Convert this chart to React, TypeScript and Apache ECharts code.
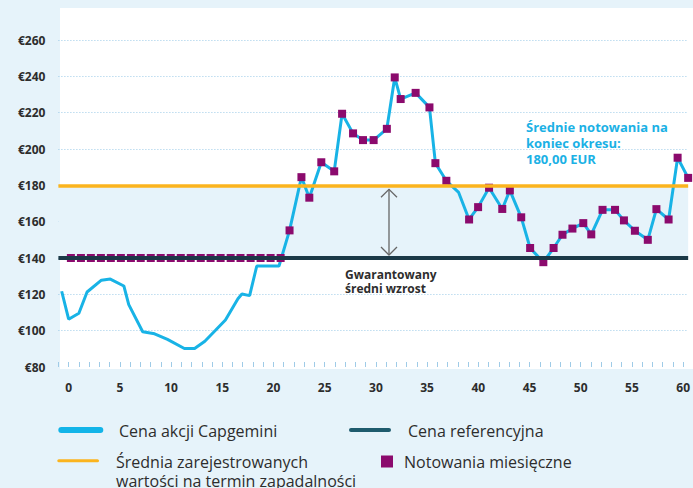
import React, { useEffect, useRef } from "react";
import * as echarts from "echarts";

// ---- data ----
const yTickValues = [80, 100, 120, 140, 160, 180, 200, 220, 240, 260];
const xLabelStep = 5;

// Capgemini share price (line vertices)
const priceX = [
  -0.68, 0, 1.0, 1.8, 3.2, 4.07, 5.39, 5.87, 7.23, 8.39, 9.65, 11.3, 12.3, 13.3, 14.34, 15.31, 16.53,
  16.92, 17.67, 18.37, 20.54, 21.57, 22.73, 23.5, 24.67, 25.93, 26.7, 27.77, 28.74, 29.78, 31.07,
  31.84, 32.42, 33.88, 35.23, 35.81, 36.88, 38.08, 39.1, 39.98, 41.05, 42.34, 43.08, 44.19, 45.06,
  46.35, 47.35, 48.22, 49.19, 50.25, 51.03, 52.13, 53.35, 54.22, 55.29, 56.55, 57.39, 58.58, 59.46,
  60.49,
];
const priceY = [
  121.7, 106.3, 109.6, 121.3, 127.8, 128.4, 124.6, 114.3, 99.4, 98.3, 95.2, 90.2, 90.2, 94.2, 100.2,
  105.9, 117.6, 120.2, 119.3, 135.6, 135.6, 155.2, 184.5, 173.2, 192.7, 187.7, 219.4, 208.6, 204.9,
  204.9, 211.1, 239.4, 227.5, 230.9, 222.9, 192.2, 182.5, 176.1, 161.2, 168.0, 178.7, 167.0, 177.2,
  162.4, 145.5, 137.7, 145.5, 152.8, 156.2, 159.2, 153.0, 166.5, 166.5, 160.7, 155.0, 150.0, 166.9,
  161.2, 195.2, 184.1,
];

// Monthly quotes (squares)
const quoteX = [
  0.22, 1.2, 2.17, 3.15, 4.12, 5.1, 6.08, 7.04, 8.02, 8.99, 9.97, 10.95, 11.92, 12.9, 13.86, 14.84,
  15.82, 16.78, 17.77, 18.74, 19.72, 20.7, 21.57, 22.73, 23.5, 24.67, 25.93, 26.7, 27.77, 28.74,
  29.78, 31.07, 31.84, 32.42, 33.88, 35.23, 35.81, 36.88, 39.1, 39.98, 41.05, 42.34, 43.08, 44.19,
  45.06, 46.35, 47.35, 48.22, 49.19, 50.25, 51.03, 52.13, 53.35, 54.22, 55.29, 56.55, 57.39, 58.58,
  59.46, 60.49,
];
const quoteY = [
  140, 140, 140, 140, 140, 140, 140, 140, 140, 140, 140, 140, 140, 140, 140, 140, 140, 140, 140, 140,
  140, 140, 155.2, 184.5, 173.2, 192.7, 187.7, 219.4, 208.6, 204.9, 204.9, 211.1, 239.4, 227.5,
  230.9, 222.9, 192.2, 182.5, 161.2, 168.0, 178.7, 167.0, 177.2, 162.4, 145.5, 137.7, 145.5, 152.8,
  156.2, 159.2, 153.0, 166.5, 166.5, 160.7, 155.0, 150.0, 166.9, 161.2, 195.2, 184.1,
];

const referencePrice = 140;
const averageAtMaturity = 180;

const legendTexts = {
  price: "Cena akcji Capgemini",
  reference: "Cena referencyjna",
  average: "Średnia zarejestrowanych\nwartości na termin zapadalności",
  quotes: "Notowania miesięczne",
};
const annotationAverage = "Średnie notowania na\nkoniec okresu:\n180,00 EUR";
const annotationGuarantee = "Gwarantowany\nśredni wzrost";

// ---- layout ----
const W = 693;
const H = 488;
const X_MIN = -1;
const X_MAX = 60.49;
const GRID_LEFT = 58.4;
const GRID_TOP = 40;
const GRID_BOTTOM_Y = 367;
const Y_MIN = yTickValues[0];
const Y_MAX = yTickValues[yTickValues.length - 1];

const FONT = '"Open Sans", "Noto Sans", sans-serif';
const DARK_TEXT = "#2d2d2d";
const BG = "#e6f3fa";
const PURPLE = "#8b0a6d";

const yPx = (v: number) => GRID_TOP + ((Y_MAX - v) / (Y_MAX - Y_MIN)) * (GRID_BOTTOM_Y - GRID_TOP);

export default function App() {
  const ref = useRef<HTMLDivElement>(null);

  useEffect(() => {
    if (!ref.current) return;
    const chart = echarts.init(ref.current, null, { renderer: "svg" });

    const arrowX = 389;
    const arrowTop = yPx(averageAtMaturity) + 4;
    const arrowBottom = yPx(referencePrice) - 3;

    const option: any = {
      animation: false,
      backgroundColor: BG,
      grid: {
        left: GRID_LEFT,
        top: GRID_TOP,
        right: 0,
        height: GRID_BOTTOM_Y - GRID_TOP,
        containLabel: false,
      },
      xAxis: {
        type: "value",
        min: X_MIN,
        max: X_MAX,
        interval: 1,
        axisLine: { show: false },
        axisTick: { show: true, inside: true, length: 5, lineStyle: { color: "#9fcbe7", width: 1 } },
        axisLabel: {
          formatter: (v: number) => (v >= 0 && v <= 60 && v % xLabelStep === 0 ? String(v) : ""),
          fontSize: 12,
          fontWeight: "bold",
          color: DARK_TEXT,
          fontFamily: FONT,
          margin: 14,
          showMaxLabel: false,
        },
        splitLine: { show: false },
      },
      yAxis: {
        type: "value",
        min: Y_MIN,
        max: Y_MAX,
        interval: 20,
        axisLine: { show: false },
        axisTick: { show: false },
        axisLabel: {
          formatter: "€{value}",
          fontSize: 12,
          fontWeight: "bold",
          color: DARK_TEXT,
          fontFamily: FONT,
          margin: 13,
        },
        splitLine: {
          show: true,
          showMinLine: false,
          lineStyle: { color: "#9ccbe8", width: 1, type: [1, 2] },
        },
      },
      series: [
        {
          type: "line",
          name: "band",
          data: [],
          z: 1,
          silent: true,
          markArea: {
            silent: true,
            itemStyle: { color: BG },
            data: [[{ yAxis: referencePrice }, { yAxis: averageAtMaturity }]],
          },
        },
        {
          type: "line",
          name: "lines",
          data: [],
          z: 2,
          silent: true,
          markLine: {
            silent: true,
            symbol: "none",
            label: { show: false },
            data: [
              { yAxis: referencePrice, lineStyle: { color: "#1b3947", width: 4, type: "solid" } },
              { yAxis: averageAtMaturity, lineStyle: { color: "#fbb41e", width: 3.5, type: "solid" } },
            ],
          },
        },
        {
          type: "line",
          name: legendTexts.price,
          data: priceX.map((x, i) => [x, priceY[i]]),
          showSymbol: false,
          symbol: "none",
          clip: true,
          lineStyle: { color: "#18b3e6", width: 3 },
          z: 3,
        },
        {
          type: "scatter",
          name: legendTexts.quotes,
          data: quoteX.map((x, i) => [x, quoteY[i]]),
          symbol: "rect",
          symbolSize: 8,
          clip: false,
          itemStyle: { color: PURPLE, opacity: 1 },
          z: 4,
        },
      ],
      graphic: [
        { type: "rect", silent: true, z: -10, shape: { x: 60, y: 8, width: 700, height: 361 }, style: { fill: "#ffffff" } },
        // annotation: average
        {
          type: "text",
          x: 526,
          y: 118.7,
          z: 10,
          style: {
            text: annotationAverage,
            fill: "#1bb1e5",
            font: `bold 13px ${FONT}`,
            lineHeight: 16,
            verticalAlign: "top",
          },
        },
        // annotation: guaranteed growth
        {
          type: "text",
          x: 345,
          y: yPx(referencePrice) + 9.5,
          z: 10,
          style: {
            text: annotationGuarantee,
            fill: DARK_TEXT,
            font: `bold 12px ${FONT}`,
            lineHeight: 14,
            verticalAlign: "top",
          },
        },
        // double arrow
        { type: "line", z: 10, shape: { x1: arrowX, y1: arrowTop, x2: arrowX, y2: arrowBottom }, style: { stroke: "#666", lineWidth: 1.3 } },
        {
          type: "polyline",
          z: 10,
          shape: { points: [[arrowX - 8, arrowTop + 8], [arrowX, arrowTop], [arrowX + 8, arrowTop + 8]] },
          style: { stroke: "#666", lineWidth: 1.3, fill: "none" },
        },
        {
          type: "polyline",
          z: 10,
          shape: { points: [[arrowX - 8, arrowBottom - 8], [arrowX, arrowBottom], [arrowX + 8, arrowBottom - 8]] },
          style: { stroke: "#666", lineWidth: 1.3, fill: "none" },
        },
        // legend
        { type: "line", z: 10, shape: { x1: 61.3, y1: 430, x2: 100.3, y2: 430 }, style: { stroke: "#12b4e8", lineWidth: 6, lineCap: "round" } },
        { type: "text", z: 10, x: 119, y: 431, style: { text: legendTexts.price, fill: DARK_TEXT, font: `16px ${FONT}`, verticalAlign: "middle" } },
        { type: "line", z: 10, shape: { x1: 351, y1: 430, x2: 389, y2: 430 }, style: { stroke: "#1e5b6d", lineWidth: 4, lineCap: "round" } },
        { type: "text", z: 10, x: 408, y: 431, style: { text: legendTexts.reference, fill: DARK_TEXT, font: `16px ${FONT}`, verticalAlign: "middle" } },
        { type: "line", z: 10, shape: { x1: 58.8, y1: 460.7, x2: 97.5, y2: 460.7 }, style: { stroke: "#fbb41e", lineWidth: 3, lineCap: "round" } },
        {
          type: "text",
          z: 10,
          x: 116,
          y: 452.5,
          style: { text: legendTexts.average, fill: DARK_TEXT, font: `16px ${FONT}`, lineHeight: 19, verticalAlign: "top" },
        },
        { type: "rect", z: 10, shape: { x: 381, y: 455.5, width: 12, height: 12 }, style: { fill: PURPLE } },
        { type: "text", z: 10, x: 404, y: 461.7, style: { text: legendTexts.quotes, fill: DARK_TEXT, font: `16px ${FONT}`, verticalAlign: "middle" } },
      ],
    };

    chart.setOption(option);
    return () => chart.dispose();
  }, []);

  return <div ref={ref} style={{ position: "absolute", left: 0, top: 0, width: W, height: H }} />;
}
